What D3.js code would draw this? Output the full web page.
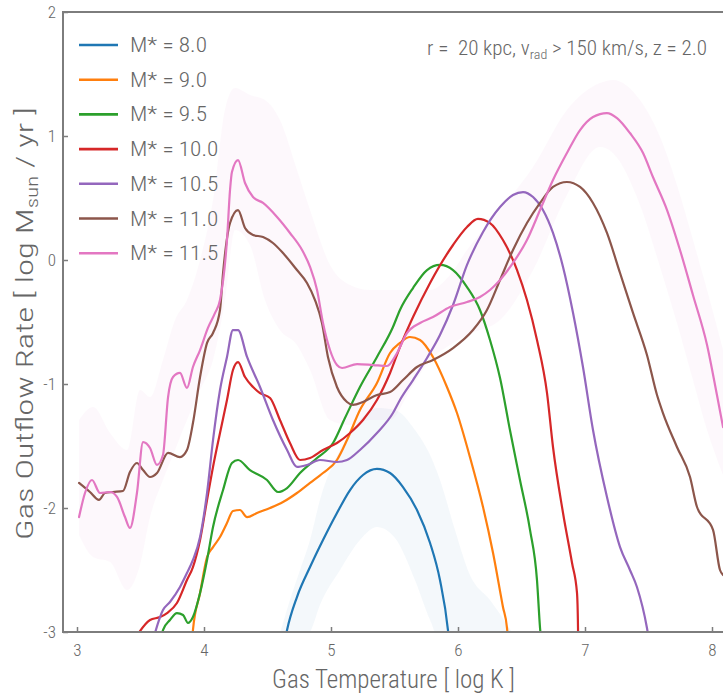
<!DOCTYPE html>
<html>
<head>
<meta charset="utf-8">
<script src="https://cdn.jsdelivr.net/npm/d3@7"></script>
<style>
  body { margin: 0; background: #fff; }
  svg { display: block; font-family: "Roboto Condensed", "Liberation Sans Narrow", Roboto, sans-serif; font-weight: 300; }
</style>
</head>
<body>
<svg id="chart" width="723" height="697"></svg>
<script>
// Outflow rate vs. gas temperature, by stellar mass bin (log T, log Msun/yr)
const massLabels = ["8.0", "9.0", "9.5", "10.0", "10.5", "11.0", "11.5"];
const colors = ["#1f77b4", "#ff7f0e", "#2ca02c", "#d62728", "#9467bd", "#8c564b", "#e377c2"];
const xTicks = [3, 4, 5, 6, 7, 8];
const yTicks = [2, 1, 0, -1, -2, -3];

const m80 = [[4.638,-3.065],[4.654,-2.984],[4.732,-2.718],[4.835,-2.476],[4.937,-2.258],[5.047,-2.040],
  [5.150,-1.855],[5.252,-1.734],[5.362,-1.685],[5.465,-1.718],[5.567,-1.831],[5.677,-2.016],[5.780,-2.282],
  [5.858,-2.581],[5.921,-2.984],[5.929,-3.065]];

const m90 = [[3.906,-3.065],[3.913,-2.984],[3.969,-2.685],[4.024,-2.395],[4.071,-2.315],[4.126,-2.234],
  [4.181,-2.121],[4.228,-2.024],[4.283,-2.016],[4.339,-2.073],[4.417,-2.040],[4.520,-2.000],[4.622,-1.952],
  [4.732,-1.879],[4.835,-1.798],[4.937,-1.718],[5.047,-1.613],[5.126,-1.452],[5.228,-1.210],[5.362,-0.992],
  [5.465,-0.750],[5.543,-0.669],[5.622,-0.621],[5.701,-0.645],[5.803,-0.782],[5.913,-1.024],[5.992,-1.234],
  [6.094,-1.589],[6.197,-1.992],[6.276,-2.363],[6.354,-2.798],[6.386,-2.968],[6.394,-3.065]];

const m95 = [[3.661,-3.065],[3.677,-2.984],[3.732,-2.903],[3.787,-2.847],[3.835,-2.863],[3.874,-2.927],
  [3.913,-2.879],[3.969,-2.685],[4.024,-2.419],[4.071,-2.153],[4.150,-1.855],[4.220,-1.637],[4.268,-1.613],
  [4.362,-1.694],[4.496,-1.774],[4.583,-1.871],[4.654,-1.839],[4.756,-1.718],[4.890,-1.597],[5.016,-1.476],
  [5.110,-1.274],[5.228,-1.024],[5.362,-0.782],[5.488,-0.540],[5.543,-0.403],[5.646,-0.226],[5.756,-0.081],
  [5.858,-0.040],[5.961,-0.081],[6.071,-0.218],[6.173,-0.403],[6.252,-0.645],[6.331,-0.952],[6.409,-1.371],
  [6.488,-1.774],[6.567,-2.177],[6.622,-2.581],[6.646,-2.968],[6.654,-3.065]];

const m100 = [[3.449,-3.065],[3.575,-2.903],[3.654,-2.879],[3.709,-2.847],[3.787,-2.766],[3.866,-2.581],
  [3.913,-2.476],[3.969,-2.258],[4.024,-1.935],[4.071,-1.669],[4.126,-1.395],[4.181,-1.129],[4.228,-0.887],
  [4.268,-0.823],[4.323,-0.944],[4.386,-1.024],[4.441,-1.073],[4.520,-1.113],[4.598,-1.290],[4.677,-1.476],
  [4.756,-1.613],[4.835,-1.597],[4.937,-1.532],[5.047,-1.476],[5.150,-1.395],[5.252,-1.290],[5.362,-1.129],
  [5.465,-0.911],[5.543,-0.702],[5.646,-0.460],[5.780,-0.185],[5.961,0.121],[6.071,0.266],[6.157,0.331],
  [6.252,0.298],[6.354,0.161],[6.465,-0.081],[6.543,-0.323],[6.622,-0.645],[6.701,-1.073],[6.748,-1.508],
  [6.827,-2.040],[6.898,-2.444],[6.937,-2.685],[6.945,-2.968],[6.946,-3.065]];

const m105 = [[3.598,-3.065],[3.677,-2.823],[3.732,-2.758],[3.811,-2.637],[3.866,-2.524],[3.913,-2.419],
  [3.969,-2.234],[4.024,-1.879],[4.071,-1.452],[4.126,-1.048],[4.181,-0.782],[4.228,-0.565],[4.268,-0.565],
  [4.339,-0.782],[4.441,-1.024],[4.543,-1.290],[4.654,-1.532],[4.732,-1.669],[4.811,-1.653],[4.913,-1.613],
  [5.047,-1.629],[5.126,-1.613],[5.228,-1.532],[5.362,-1.395],[5.488,-1.234],[5.543,-1.129],[5.646,-0.968],
  [5.756,-0.790],[5.858,-0.605],[5.961,-0.363],[6.071,-0.040],[6.197,0.226],[6.331,0.427],[6.433,0.524],
  [6.512,0.548],[6.591,0.508],[6.669,0.403],[6.748,0.218],[6.827,-0.056],[6.906,-0.427],[6.984,-0.863],
  [7.063,-1.371],[7.173,-1.911],[7.276,-2.315],[7.354,-2.500],[7.409,-2.637],[7.488,-2.968],[7.504,-3.065]];

const m110 = [[3.016,-1.798],[3.102,-1.871],[3.173,-1.935],[3.220,-1.879],[3.283,-1.871],[3.362,-1.863],
  [3.417,-1.710],[3.472,-1.637],[3.520,-1.694],[3.575,-1.750],[3.630,-1.718],[3.717,-1.556],[3.811,-1.589],
  [3.866,-1.532],[3.913,-1.315],[3.969,-0.944],[4.024,-0.669],[4.071,-0.589],[4.126,-0.403],[4.150,-0.105],
  [4.205,0.298],[4.268,0.403],[4.323,0.258],[4.386,0.202],[4.465,0.185],[4.543,0.137],[4.622,0.056],
  [4.732,-0.081],[4.811,-0.185],[4.874,-0.323],[4.929,-0.508],[4.976,-0.782],[5.047,-1.024],[5.126,-1.145],
  [5.173,-1.169],[5.252,-1.145],[5.362,-1.089],[5.465,-1.065],[5.567,-0.968],[5.677,-0.863],[5.803,-0.806],
  [5.961,-0.710],[6.118,-0.565],[6.228,-0.403],[6.331,-0.161],[6.433,0.081],[6.543,0.298],[6.646,0.460],
  [6.748,0.589],[6.858,0.629],[6.961,0.589],[7.063,0.460],[7.173,0.218],[7.276,-0.105],[7.378,-0.427],
  [7.488,-0.766],[7.567,-1.089],[7.614,-1.234],[7.724,-1.508],[7.827,-1.750],[7.882,-1.992],[8.008,-2.177],
  [8.063,-2.500],[8.087,-2.540]];

const m115 = [[3.016,-2.073],[3.063,-1.879],[3.118,-1.774],[3.181,-1.879],[3.260,-1.871],[3.315,-1.911],
  [3.378,-2.073],[3.417,-2.161],[3.472,-1.879],[3.520,-1.468],[3.575,-1.516],[3.630,-1.653],[3.677,-1.573],
  [3.717,-1.105],[3.756,-0.944],[3.811,-0.911],[3.866,-1.032],[3.913,-0.863],[3.969,-0.726],[4.031,-0.548],
  [4.087,-0.427],[4.126,-0.323],[4.181,0.161],[4.205,0.565],[4.220,0.710],[4.268,0.806],[4.323,0.621],
  [4.386,0.508],[4.465,0.460],[4.575,0.347],[4.677,0.218],[4.772,0.081],[4.835,-0.056],[4.890,-0.242],
  [4.937,-0.508],[4.992,-0.726],[5.047,-0.847],[5.087,-0.871],[5.205,-0.839],[5.331,-0.847],[5.441,-0.855],
  [5.520,-0.750],[5.598,-0.589],[5.701,-0.508],[5.803,-0.460],[5.937,-0.379],[6.071,-0.339],[6.173,-0.298],
  [6.252,-0.242],[6.331,-0.161],[6.433,-0.024],[6.543,0.161],[6.646,0.403],[6.748,0.645],[6.858,0.863],
  [6.961,1.048],[7.063,1.153],[7.173,1.185],[7.252,1.145],[7.354,1.024],[7.457,0.863],[7.535,0.669],
  [7.646,0.403],[7.748,0.081],[7.850,-0.282],[7.961,-0.685],[8.039,-1.089],[8.087,-1.347]];

// scatter bands: [logT, lower, upper]
const band80 = [[4.583,-3.065,-3.065],[4.677,-3.065,-2.742],[4.756,-3.065,-2.500],[4.835,-3.000,-2.258],
  [4.913,-2.782,-1.935],[5.071,-2.500,-1.532],[5.228,-2.258,-1.290],[5.362,-2.153,-1.194],[5.504,-2.242,-1.210],
  [5.661,-2.581,-1.371],[5.780,-2.903,-1.573],[5.858,-3.065,-1.774],[5.976,-3.065,-2.177],[6.094,-3.065,-2.540],
  [6.252,-3.065,-2.742],[6.465,-3.065,-3.065]];

const band115 = [[3.016,-2.218,-1.290],[3.126,-2.395,-1.185],[3.260,-2.435,-1.395],[3.394,-2.661,-1.532],
  [3.496,-2.460,-1.048],[3.575,-2.073,-1.105],[3.677,-1.774,-0.806],[3.772,-1.532,-0.484],[3.866,-1.290,-0.323],
  [3.969,-1.048,0.000],[4.071,-0.806,0.484],[4.165,-0.323,1.210],[4.244,0.242,1.387],[4.362,0.121,1.331],
  [4.480,-0.323,1.290],[4.598,-0.565,1.129],[4.732,-0.685,0.726],[4.835,-0.887,0.403],[4.992,-1.290,-0.040],
  [5.150,-1.331,-0.202],[5.307,-1.290,-0.242],[5.465,-1.290,-0.242],[5.622,-1.048,-0.242],[5.780,-0.806,-0.242],
  [5.937,-0.685,-0.121],[6.071,-0.605,0.081],[6.331,-0.484,0.403],[6.591,-0.081,0.750],[6.858,0.524,1.210],
  [7.118,0.911,1.427],[7.220,0.863,1.452],[7.433,0.444,1.290],[7.591,-0.056,0.992],[7.724,-0.508,0.605],
  [7.850,-0.968,0.161],[7.961,-1.371,-0.242],[8.087,-1.734,-0.726]];

const seriesData = [m80, m90, m95, m100, m105, m110, m115];

const svg = d3.select("#chart");
const plotL = 63, plotT = 12, plotB = 632, plotR = 723;
const x = d3.scaleLinear().domain([3, 8]).range([77, 712]);
const y = d3.scaleLinear().domain([-3, 2]).range([plotB, plotT]);

svg.append("defs").append("clipPath").attr("id", "plotClip")
  .append("rect").attr("x", plotL).attr("y", plotT).attr("width", plotR - plotL + 5).attr("height", plotB - plotT);

const plot = svg.append("g").attr("clip-path", "url(#plotClip)");

const area = d3.area().x(d => x(d[0])).y0(d => y(d[1])).y1(d => y(d[2])).curve(d3.curveMonotoneX);
plot.append("path").datum(band80).attr("d", area).attr("fill", colors[0]).attr("fill-opacity", 0.05);
plot.append("path").datum(band115).attr("d", area).attr("fill", colors[6]).attr("fill-opacity", 0.055);

const line = d3.line().x(d => x(d[0])).y(d => y(d[1])).curve(d3.curveMonotoneX);
seriesData.forEach((s, i) => {
  plot.append("path").datum(s).attr("d", line)
    .attr("fill", "none").attr("stroke", colors[i]).attr("stroke-width", 2.2)
    .attr("stroke-linejoin", "round").attr("stroke-linecap", "round");
});

// axes with inward ticks
const axisColor = "#7d7d7d", textColor = "#666";
const xAxis = svg.append("g").attr("transform", `translate(0,${plotB})`)
  .call(d3.axisBottom(x).tickValues(xTicks).tickSizeInner(-5).tickSizeOuter(0).tickPadding(10).tickFormat(d3.format("d")));
const yAxis = svg.append("g").attr("transform", `translate(${plotL},0)`)
  .call(d3.axisLeft(y).tickValues(yTicks).tickSizeInner(-5).tickSizeOuter(0).tickPadding(7).tickFormat(d => d < 0 ? "-" + Math.abs(d) : d));
[xAxis, yAxis].forEach(a => {
  a.select(".domain").remove();
  a.selectAll(".tick line").attr("stroke", axisColor).attr("stroke-width", 1.5);
  a.selectAll(".tick text").attr("fill", textColor).attr("font-size", 17)
    .attr("font-family", "'Roboto Condensed','Liberation Sans Narrow',Roboto,sans-serif")
    .attr("font-weight", 300);
});
xAxis.selectAll(".tick text").attr("dy", "0.85em");

// spines
svg.append("line").attr("x1", plotL).attr("x2", plotR).attr("y1", plotT).attr("y2", plotT)
  .attr("stroke", axisColor).attr("stroke-width", 2);
svg.append("line").attr("x1", plotL).attr("x2", plotR).attr("y1", plotB).attr("y2", plotB)
  .attr("stroke", axisColor).attr("stroke-width", 2);
svg.append("line").attr("x1", plotL).attr("x2", plotL).attr("y1", plotT - 1).attr("y2", plotB + 1)
  .attr("stroke", axisColor).attr("stroke-width", 2);

// squeeze a text group horizontally so its width is `target`
function fit(g, text, target) {
  const w = text.node().getComputedTextLength();
  const f = target / w;
  g.attr("transform", g.attr("transform") + ` scale(${f},1)`);
  return f;
}

// legend
const legend = svg.append("g");
let legendScale = null;
massLabels.forEach((m, i) => {
  const ly = 45 + i * 34.7;
  legend.append("line").attr("x1", 79).attr("x2", 118).attr("y1", ly).attr("y2", ly)
    .attr("stroke", colors[i]).attr("stroke-width", 2.6);
  const g = legend.append("g").attr("transform", `translate(130,${ly})`);
  const t = g.append("text").attr("dy", "0.36em").attr("font-size", 19.5).attr("fill", textColor)
    .style("white-space", "pre").text(`M* = ${m}`);
  if (legendScale === null) legendScale = fit(g, t, 77);
  else g.attr("transform", g.attr("transform") + ` scale(${legendScale},1)`);
});

// annotation
const ann = svg.append("g").attr("transform", "translate(707,55)");
const annText = ann.append("text").attr("text-anchor", "end").attr("font-size", 19.5).attr("fill", textColor)
  .style("white-space", "pre");
annText.append("tspan").text("r =  20 kpc, v");
annText.append("tspan").attr("font-size", 13).attr("dy", 4).text("rad");
annText.append("tspan").attr("dy", -4).text(" > 150 km/s, z = 2.0");
fit(ann, annText, 280);

// axis titles
const xt = svg.append("g").attr("transform", "translate(393.5,688)");
const xtText = xt.append("text").attr("text-anchor", "middle").attr("font-size", 25).attr("fill", textColor)
  .text("Gas Temperature [ log K ]");
fit(xt, xtText, 243);

const yt = svg.append("g").attr("transform", "translate(33,323.5) rotate(-90)");
const ytText = yt.append("text").attr("text-anchor", "middle").attr("font-size", 24).attr("fill", textColor)
  .style("white-space", "pre");
ytText.append("tspan").text("Gas Outflow Rate [ log M");
ytText.append("tspan").attr("font-size", 16).attr("dy", 5).text("sun");
ytText.append("tspan").attr("dy", -5).text(" / yr ]");
fit(yt, ytText, 433);
</script>
</body>
</html>
